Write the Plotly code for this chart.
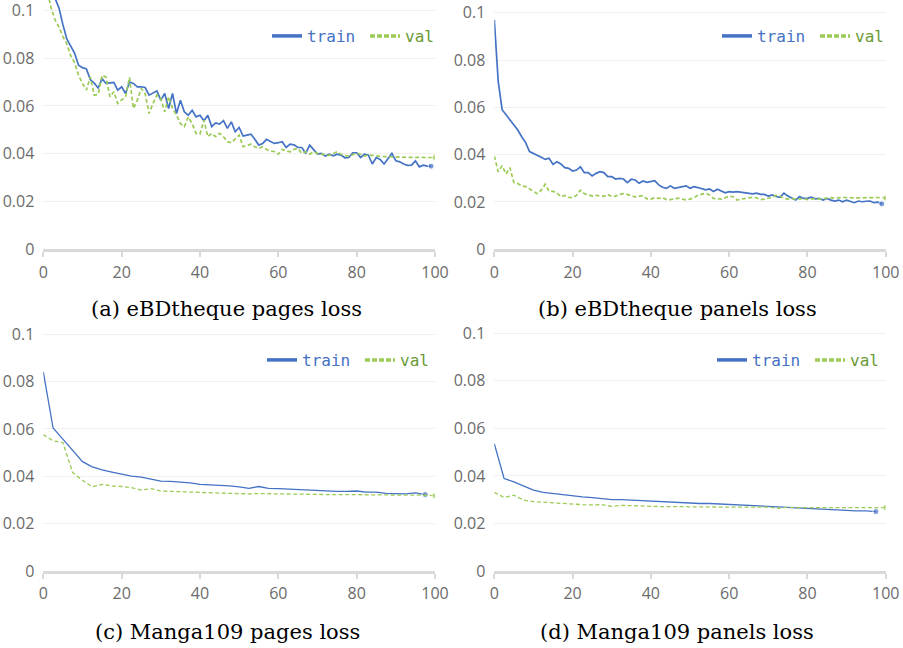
import plotly.graph_objects as go

# ---------------- data ----------------
epochs_a_train = list(range(0, 100))
train_a = [0.135, 0.122, 0.112, 0.105, 0.101, 0.094, 0.088, 0.085, 0.082, 0.077,
           0.076, 0.0755, 0.071, 0.0695, 0.0675, 0.0714, 0.0694, 0.0696, 0.0698, 0.0666,
           0.068, 0.0652, 0.070, 0.0694, 0.068, 0.068, 0.0677, 0.0645, 0.0655, 0.0663,
           0.0624, 0.0652, 0.0589, 0.0652, 0.0568, 0.0624, 0.0575, 0.0561, 0.0582, 0.0554,
           0.0561, 0.0538, 0.0561, 0.0513, 0.0529, 0.0524, 0.0538, 0.0506, 0.0533, 0.0492,
           0.051, 0.0474, 0.0478, 0.0482, 0.046, 0.0436, 0.0443, 0.046, 0.0451, 0.0443,
           0.0446, 0.045, 0.0426, 0.044, 0.0437, 0.0426, 0.0426, 0.0401, 0.0436, 0.0418,
           0.0398, 0.0401, 0.039, 0.0398, 0.0391, 0.0398, 0.0394, 0.0383, 0.0384, 0.0404,
           0.0404, 0.0384, 0.0398, 0.0394, 0.0357, 0.0384, 0.0376, 0.0357, 0.038, 0.0401,
           0.037, 0.0366, 0.0357, 0.0351, 0.0352, 0.037, 0.0345, 0.0352, 0.0348, 0.0348]
epochs_a_val = list(range(0, 101))
val_a = [0.118, 0.108, 0.101, 0.096, 0.093, 0.089, 0.086, 0.081, 0.078, 0.0728,
         0.0694, 0.0666, 0.0721, 0.0645, 0.0648, 0.0728, 0.0721, 0.0638, 0.0659, 0.061,
         0.0625, 0.0638, 0.0719, 0.0589, 0.0624, 0.0673, 0.0652, 0.0568, 0.061, 0.0645,
         0.0631, 0.0575, 0.0638, 0.0589, 0.0561, 0.0526, 0.0513, 0.0554, 0.0526, 0.0485,
         0.0482, 0.054, 0.0471, 0.0485, 0.0471, 0.0485, 0.0471, 0.045, 0.0446, 0.046,
         0.0478, 0.0429, 0.0436, 0.044, 0.0429, 0.0422, 0.0429, 0.0418, 0.0412, 0.0408,
         0.0398, 0.0418, 0.0412, 0.0408, 0.0418, 0.0422, 0.0401, 0.0408, 0.0398, 0.0408,
         0.0401, 0.0398, 0.0395, 0.0393, 0.040, 0.0408, 0.0398, 0.0392, 0.039, 0.0395,
         0.0402, 0.0398, 0.039, 0.0395, 0.0392, 0.039, 0.0389, 0.0388, 0.0387, 0.0388,
         0.0387, 0.0386, 0.0386, 0.0385, 0.0385, 0.0384, 0.0384, 0.0384, 0.0384, 0.0384,
         0.0384]

epochs_b_train = list(range(0, 100))
train_b = [0.097, 0.071, 0.059, 0.0568, 0.055, 0.0525, 0.0504, 0.0476, 0.0451, 0.0413,
           0.0406, 0.0399, 0.0389, 0.038, 0.0385, 0.0359, 0.037, 0.0361, 0.0345, 0.0342,
           0.0331, 0.0335, 0.0349, 0.0324, 0.0324, 0.031, 0.0321, 0.0328, 0.0324, 0.0307,
           0.0307, 0.0297, 0.030, 0.0297, 0.0282, 0.0296, 0.0293, 0.0279, 0.0289, 0.0283,
           0.0286, 0.029, 0.0272, 0.0262, 0.0258, 0.0268, 0.0258, 0.0262, 0.0265, 0.0268,
           0.0258, 0.0265, 0.0261, 0.0255, 0.0251, 0.0255, 0.0244, 0.0254, 0.0248, 0.0239,
           0.0244, 0.0242, 0.0244, 0.0242, 0.0241, 0.0239, 0.0234, 0.0237, 0.0232, 0.0232,
           0.0225, 0.023, 0.0223, 0.022, 0.0237, 0.0225, 0.0215, 0.0208, 0.0223, 0.0215,
           0.0215, 0.022, 0.0213, 0.0215, 0.0208, 0.0215, 0.0208, 0.0204, 0.0208, 0.0201,
           0.0208, 0.0201, 0.0197, 0.0204, 0.0201, 0.0203, 0.0204, 0.0197, 0.0199, 0.0192]
epochs_b_val = list(range(0, 101))
val_b = [0.0394, 0.0328, 0.0353, 0.0318, 0.0345, 0.0282, 0.0278, 0.0268, 0.0265, 0.0255,
         0.0245, 0.0235, 0.025, 0.0275, 0.0245, 0.0245, 0.0238, 0.0222, 0.0228, 0.022,
         0.0218, 0.0228, 0.025, 0.0235, 0.023, 0.0225, 0.0228, 0.0226, 0.0224, 0.0232,
         0.0222, 0.0225, 0.0232, 0.0235, 0.0232, 0.0225, 0.0222, 0.0225, 0.0227, 0.0213,
         0.0212, 0.0218, 0.0215, 0.0218, 0.021, 0.021, 0.0213, 0.0216, 0.0212, 0.0208,
         0.0212, 0.0218, 0.0228, 0.0232, 0.0237, 0.023, 0.0215, 0.0214, 0.0212, 0.0218,
         0.0225, 0.0222, 0.0208, 0.0212, 0.0215, 0.0218, 0.022, 0.0218, 0.021, 0.0212,
         0.0215, 0.022, 0.0228, 0.0225, 0.0215, 0.0212, 0.0215, 0.0212, 0.0213, 0.0215,
         0.021, 0.0212, 0.0215, 0.0212, 0.0215, 0.0216, 0.0217, 0.0218, 0.0218, 0.0219,
         0.0219, 0.0218, 0.0217, 0.0216, 0.0217, 0.0218, 0.0219, 0.022, 0.0219, 0.0218,
         0.0217]

epochs_c_train = [2.5 * i for i in range(0, 40)]
train_c = [0.0841, 0.0604, 0.0557, 0.0508, 0.0462, 0.044, 0.0427, 0.0418, 0.0408, 0.0401,
           0.0397, 0.039, 0.038, 0.0379, 0.0376, 0.0372, 0.0366, 0.0365, 0.0363, 0.036,
           0.0355, 0.0349, 0.0357, 0.0349, 0.0348, 0.0346, 0.0342, 0.0342, 0.034, 0.0336,
           0.0336, 0.0336, 0.0338, 0.0333, 0.0333, 0.0328, 0.0328, 0.0326, 0.033, 0.0323]
epochs_c_val = [2.5 * i for i in range(0, 41)]
val_c = [0.0576, 0.055, 0.0543, 0.0416, 0.0383, 0.0356, 0.0366, 0.0359, 0.0357, 0.0352,
         0.0342, 0.0348, 0.0338, 0.0336, 0.0335, 0.0332, 0.0332, 0.033, 0.0329, 0.0328,
         0.0326, 0.0326, 0.0327, 0.0326, 0.0325, 0.0325, 0.0325, 0.0324, 0.0324, 0.0323,
         0.0323, 0.0323, 0.0322, 0.0322, 0.0322, 0.0321, 0.0321, 0.0321, 0.032, 0.032,
         0.0318]

epochs_d_train = [2.5 * i for i in range(0, 40)]
train_d = [0.0536, 0.0389, 0.0375, 0.0358, 0.034, 0.0331, 0.0326, 0.032, 0.0314, 0.0312,
           0.0309, 0.0305, 0.030, 0.030, 0.0298, 0.0295, 0.0293, 0.0292, 0.0288, 0.0288,
           0.0286, 0.0284, 0.0284, 0.0282, 0.0279, 0.0278, 0.0275, 0.0272, 0.0269, 0.0268,
           0.0267, 0.0265, 0.0262, 0.0261, 0.026, 0.0257, 0.0255, 0.0253, 0.0253, 0.025]
epochs_d_val = [2.5 * i for i in range(0, 41)]
val_d = [0.0331, 0.0309, 0.0319, 0.0298, 0.0292, 0.0289, 0.0286, 0.0284, 0.0281, 0.0279,
         0.0278, 0.0279, 0.0272, 0.0276, 0.0275, 0.0272, 0.0272, 0.0271, 0.0272, 0.0271,
         0.027, 0.0271, 0.027, 0.0269, 0.0269, 0.0268, 0.0268, 0.027, 0.0269, 0.0264,
         0.0268, 0.0267, 0.0267, 0.0267, 0.0267, 0.0267, 0.0267, 0.0268, 0.0267, 0.0267,
         0.0267]

y_tick_vals = [0, 0.02, 0.04, 0.06, 0.08, 0.1]
y_tick_text = ["0", "0.02", "0.04", "0.06", "0.08", "0.1"]
x_tick_vals = [0, 20, 40, 60, 80, 100]
captions = ["(a) eBDtheque pages loss", "(b) eBDtheque panels loss",
            "(c) Manga109 pages loss", "(d) Manga109 panels loss"]

# ---------------- styling ----------------
W, H = 903, 648
BLUE = "#4472C4"
GREEN = "#9BCB55"
GREEN_TXT = "#6A9A35"
TICK_FONT = dict(family="Open Sans", size=16, color="#6b6b6b")

# panel pixel geometry
panels = [
    dict(x0=43.3, x1=435.0, yb=249.3, yt=0.0, y01=10.3, lw=1.7),
    dict(x0=494.3, x1=885.7, yb=249.3, yt=0.0, y01=12.7, lw=1.7),
    dict(x0=43.3, x1=435.0, yb=571.0, yt=322.0, y01=334.3, lw=1.3),
    dict(x0=494.3, x1=885.7, yb=571.0, yt=322.0, y01=333.3, lw=1.3),
]
series = [
    (epochs_a_train, train_a, epochs_a_val, val_a),
    (epochs_b_train, train_b, epochs_b_val, val_b),
    (epochs_c_train, train_c, epochs_c_val, val_c),
    (epochs_d_train, train_d, epochs_d_val, val_d),
]
legend_pos = [(267, 36), (717, 36), (262, 360), (712, 360)]
caption_pos = [(226, 309), (677, 309), (227, 632), (677, 632)]

fig = go.Figure()
layout = dict(width=W, height=H,
              margin=dict(l=0, r=0, t=0, b=0, pad=0, autoexpand=False),
              paper_bgcolor="white", plot_bgcolor="white", annotations=[])

for i, (p, s) in enumerate(zip(panels, series)):
    n = "" if i == 0 else str(i + 1)
    xa, ya = "x" + n, "y" + n
    lg = "legend" + n
    ex_t, v_t, ex_v, v_v = s
    scale = (p["yb"] - p["y01"]) / 0.1
    ytop = (p["yb"] - p["yt"]) / scale

    fig.add_trace(go.Scatter(
        x=ex_t, y=v_t, xaxis=xa, yaxis=ya, mode="lines+markers",
        line=dict(color=BLUE, width=p["lw"]),
        marker=dict(size=[0] * (len(v_t) - 1) + [6], color=BLUE),
        showlegend=False, cliponaxis=True, hoverinfo="skip"))
    fig.add_trace(go.Scatter(
        x=ex_v, y=v_v, xaxis=xa, yaxis=ya, mode="lines+markers",
        line=dict(color=GREEN, width=p["lw"], dash="4px,2.5px"),
        marker=dict(size=[0] * (len(v_v) - 1) + [6], color=GREEN),
        showlegend=False, cliponaxis=True, hoverinfo="skip"))
    # legend entries
    fig.add_trace(go.Scatter(
        x=[None], y=[None], xaxis=xa, yaxis=ya, mode="lines",
        line=dict(color=BLUE, width=3.5),
        name=f"<span style='color:{BLUE}'>train</span>", legend=lg))
    fig.add_trace(go.Scatter(
        x=[None], y=[None], xaxis=xa, yaxis=ya, mode="lines",
        line=dict(color=GREEN, width=3.5, dash="5px,2px"),
        name=f"<span style='color:{GREEN_TXT}'>val</span>", legend=lg))

    layout["xaxis" + n] = dict(
        domain=[p["x0"] / W, p["x1"] / W], range=[0, 100], anchor=ya,
        tickvals=x_tick_vals, showgrid=False, zeroline=False,
        showline=True, linecolor="#d9d9d9", linewidth=3,
        ticks="outside", ticklen=5, tickwidth=2, tickcolor="#d9d9d9",
        tickfont=TICK_FONT, ticklabelstandoff=1, fixedrange=True,
        automargin=False)
    layout["yaxis" + n] = dict(
        domain=[1 - p["yb"] / H, 1 - p["yt"] / H], range=[0, ytop], anchor=xa,
        tickvals=y_tick_vals, ticktext=y_tick_text, showgrid=True,
        gridcolor="#f0f0f0", gridwidth=1, zeroline=False, showline=False,
        ticks="", tickfont=TICK_FONT, ticklabelstandoff=8, fixedrange=True,
        automargin=False, ticklabeloverflow="allow")
    lx, ly = legend_pos[i]
    layout[lg] = dict(
        orientation="h", x=lx / W, y=1 - ly / H, xanchor="left", yanchor="middle",
        bgcolor="rgba(0,0,0,0)", font=dict(family="DejaVu Sans Mono", size=16),
        itemwidth=30, tracegroupgap=0, itemclick=False, itemdoubleclick=False,
        entrywidth=53, entrywidthmode="pixels")
    cx, cy = caption_pos[i]
    layout["annotations"].append(dict(
        text=captions[i], x=cx / W, y=1 - cy / H, xref="paper", yref="paper",
        xanchor="center", yanchor="middle", showarrow=False,
        font=dict(family="DejaVu Serif", size=21, color="black")))

fig.update_layout(**layout)
fig.write_html("out.html",
               config={"displayModeBar": False, "responsive": False},
               post_script="document.body.style.margin='0px';"
                           "document.body.style.overflow='hidden';")
